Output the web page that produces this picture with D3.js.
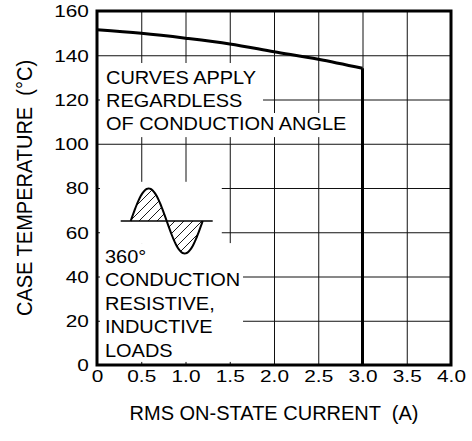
<!DOCTYPE html>
<html>
<head>
<meta charset="utf-8">
<script src="https://cdn.jsdelivr.net/npm/d3@7"></script>
<style>
  body { margin: 0; background: #fff; }
  svg { display: block; }
  text { font-family: "Liberation Sans", Arial, sans-serif; fill: #000; }
</style>
</head>
<body>
<div class="canva"></div>
<script>
// data
const currentA = [0, 0.5, 1.0, 1.5, 2.0, 2.5, 3.0];
const caseTemp = [151.5, 149.9, 147.7, 145.1, 141.6, 138.2, 134.1];
const cutoffA = 3.0;
const xTicks = [0, 0.5, 1.0, 1.5, 2.0, 2.5, 3.0, 3.5, 4.0];
const xTickLabels = ["0", "0.5", "1.0", "1.5", "2.0", "2.5", "3.0", "3.5", "4.0"];
const yTicks = [0, 20, 40, 60, 80, 100, 120, 140, 160];
const note1 = ["CURVES APPLY", "REGARDLESS", "OF CONDUCTION ANGLE"];
const note2 = ["360\u00b0", "CONDUCTION", "RESISTIVE,", "INDUCTIVE", "LOADS"];

const W = 472, H = 441;
const L = 97, R = 451, T = 11, B = 365;

const svg = d3.select(".canva").append("svg")
  .attr("width", W)
  .attr("height", H);

const x = d3.scaleLinear().domain([0, 4]).range([L, R]);
const y = d3.scaleLinear().domain([0, 160]).range([B, T]);

// grid
svg.append("g")
  .attr("transform", `translate(0,${B})`)
  .call(d3.axisBottom(x).tickValues(xTicks.slice(1, -1)).tickSize(-(B - T)).tickFormat(""))
  .call(g => g.select(".domain").remove())
  .call(g => g.selectAll("line").attr("stroke", "#111").attr("stroke-width", 1));

svg.append("g")
  .attr("transform", `translate(${L},0)`)
  .call(d3.axisLeft(y).tickValues(yTicks.slice(1, -1)).tickSize(-(R - L)).tickFormat(""))
  .call(g => g.select(".domain").remove())
  .call(g => g.selectAll("line").attr("stroke", "#111").attr("stroke-width", 1));

// white areas behind the notes (data units)
const masks = [
  [0.034, 1.876, 136.5, 113.9],
  [0.034, 2.88, 113.9, 103.0],
  [0.034, 1.41, 82.8, 55.1],
  [0.034, 1.65, 55.1, 1.4]
];
svg.selectAll("rect.mask").data(masks).enter().append("rect")
  .attr("class", "mask")
  .attr("x", d => x(d[0]))
  .attr("y", d => y(d[2]))
  .attr("width", d => x(d[1]) - x(d[0]))
  .attr("height", d => y(d[3]) - y(d[2]))
  .attr("fill", "#fff");

// derating curve
const pts = currentA.map((a, i) => [a, caseTemp[i]]);
svg.append("path")
  .attr("d", d3.line().x(d => x(d[0])).y(d => y(d[1])).curve(d3.curveMonotoneX)(pts))
  .attr("fill", "none")
  .attr("stroke", "#000")
  .attr("stroke-width", 3);

svg.append("path")
  .attr("d", d3.line().x(d => x(d[0])).y(d => y(d[1]))([[cutoffA, caseTemp[caseTemp.length - 1]], [cutoffA, 0]]))
  .attr("fill", "none")
  .attr("stroke", "#000")
  .attr("stroke-width", 3);

// sine icon with hatching
const defs = svg.append("defs");
defs.append("pattern")
  .attr("id", "hatch")
  .attr("patternUnits", "userSpaceOnUse")
  .attr("width", 9).attr("height", 9)
  .append("path")
  .attr("d", "M-1,10 L10,-1 M-2,2 L2,-2 M7,11 L11,7")
  .attr("stroke", "#000")
  .attr("stroke-width", 0.9);

const ix0 = 130.7, period = 72, iy = 221, amp = 32.5;
const steps = d3.range(0, 73).map(i => i / 72);
const sinePts = steps.map(t => [ix0 + t * period, iy - amp * Math.sin(t * 2 * Math.PI)]);
const icon = svg.append("g");
icon.append("path")
  .attr("d", d3.line()(sinePts) + "Z")
  .attr("fill", "url(#hatch)");
icon.append("line")
  .attr("x1", 120.7).attr("x2", 212.7)
  .attr("y1", iy).attr("y2", iy)
  .attr("stroke", "#000")
  .attr("stroke-width", 1.5);
icon.append("path")
  .attr("d", d3.line()(sinePts))
  .attr("fill", "none")
  .attr("stroke", "#000")
  .attr("stroke-width", 2);

// notes
function note(lines, x0, y0, dy) {
  svg.selectAll(null).data(lines).enter().append("text")
    .text(d => d)
    .attr("font-size", 19)
    .attr("transform", (d, i) => `translate(${x0},${y0 + i * dy}) scale(1.05,1)`);
}
note(note1, 106, 84, 23.1);
note(note2, 105, 262.5, 23.6);

// frame
svg.append("rect")
  .attr("x", L).attr("y", T)
  .attr("width", R - L).attr("height", B - T)
  .attr("fill", "none")
  .attr("stroke", "#000")
  .attr("stroke-width", 3);

// tick labels
svg.append("g")
  .attr("transform", `translate(0,${B})`)
  .call(d3.axisBottom(x).tickValues(xTicks).tickSize(0).tickFormat((d, i) => xTickLabels[i]))
  .call(g => g.select(".domain").remove())
  .call(g => g.selectAll("text")
    .attr("font-size", 16)
    .attr("font-family", "Liberation Sans, Arial, sans-serif")
    .attr("fill", "#000")
    .attr("dy", 0)
    .attr("y", 16.7)
    .attr("transform", "scale(1.3,1)"));

svg.append("g")
  .attr("transform", `translate(${L},0)`)
  .call(d3.axisLeft(y).tickValues(yTicks).tickSize(0))
  .call(g => g.select(".domain").remove())
  .call(g => g.selectAll("text")
    .attr("font-size", 16)
    .attr("font-family", "Liberation Sans, Arial, sans-serif")
    .attr("fill", "#000")
    .attr("x", -6.2)
    .attr("dy", "0.36em")
    .attr("transform", "scale(1.3,1)"));

// axis titles
svg.append("text")
  .text("RMS ON-STATE CURRENT  (A)")
  .attr("font-size", 20)
  .attr("text-anchor", "middle")
  .attr("x", x(2))
  .attr("y", 420)
  .style("white-space", "pre");

svg.append("text")
  .text("CASE TEMPERATURE  (\u00b0C)")
  .attr("font-size", 20)
  .attr("text-anchor", "middle")
  .attr("transform", `translate(31.7,${y(80)}) rotate(-90) scale(1,1.1)`)
  .style("white-space", "pre");
</script>
</body>
</html>
